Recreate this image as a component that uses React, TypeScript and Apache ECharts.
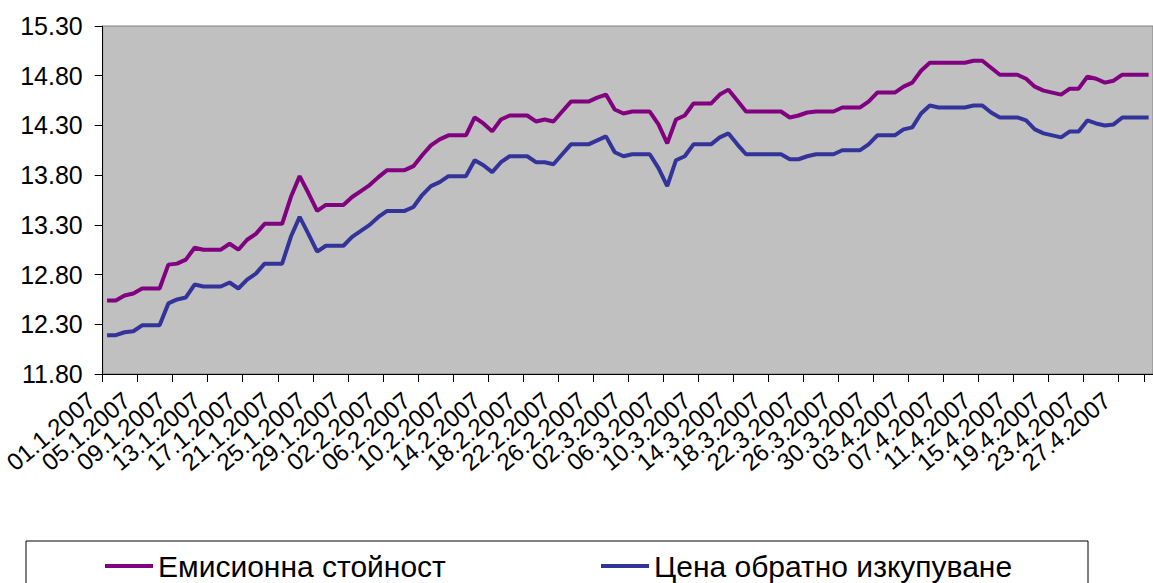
import React, { useEffect, useRef } from "react";
import * as echarts from "echarts";

// Daily categories 01.1.2007 – 30.4.2007
const monthDays = [31, 28, 31, 30];
const categories: string[] = [];
monthDays.forEach((n, mi) => {
  for (let d = 1; d <= n; d++) {
    categories.push(String(d).padStart(2, "0") + "." + (mi + 1) + ".2007");
  }
});
const labelEvery = 4;

const seriesNames = ["Емисионна стойност", "Цена обратно изкупуване"];

const emission = [
  12.54, 12.54, 12.59, 12.61, 12.66, 12.66, 12.66, 12.90, 12.91, 12.95,
  13.07, 13.05, 13.05, 13.05, 13.11, 13.05, 13.15, 13.21, 13.31, 13.31,
  13.31, 13.58, 13.79, 13.62, 13.44, 13.50, 13.50, 13.50, 13.58, 13.64,
  13.70, 13.78, 13.85, 13.85, 13.85, 13.89, 14.00, 14.10, 14.16, 14.20,
  14.20, 14.20, 14.38, 14.32, 14.24, 14.36, 14.40, 14.40, 14.40, 14.34,
  14.36, 14.34, 14.44, 14.54, 14.54, 14.54, 14.58, 14.61, 14.46, 14.42,
  14.44, 14.44, 14.44, 14.31, 14.12, 14.36, 14.40, 14.52, 14.52, 14.52,
  14.61, 14.66, 14.55, 14.44, 14.44, 14.44, 14.44, 14.44, 14.38, 14.40,
  14.43, 14.44, 14.44, 14.44, 14.48, 14.48, 14.48, 14.54, 14.63, 14.63,
  14.63, 14.69, 14.73, 14.85, 14.93, 14.93, 14.93, 14.93, 14.93, 14.95,
  14.95, 14.88, 14.81, 14.81, 14.81, 14.77, 14.69, 14.65, 14.63, 14.61,
  14.67, 14.67, 14.79, 14.77, 14.73, 14.75, 14.81, 14.81, 14.81, 14.81,
];

const redemption = [
  12.19, 12.19, 12.22, 12.23, 12.29, 12.29, 12.29, 12.51, 12.55, 12.57,
  12.70, 12.68, 12.68, 12.68, 12.72, 12.66, 12.75, 12.81, 12.91, 12.91,
  12.91, 13.18, 13.38, 13.21, 13.03, 13.09, 13.09, 13.09, 13.18, 13.24,
  13.30, 13.38, 13.44, 13.44, 13.44, 13.48, 13.60, 13.69, 13.73, 13.79,
  13.79, 13.79, 13.95, 13.90, 13.83, 13.93, 13.99, 13.99, 13.99, 13.93,
  13.93, 13.91, 14.01, 14.11, 14.11, 14.11, 14.15, 14.19, 14.03, 13.99,
  14.01, 14.01, 14.01, 13.87, 13.69, 13.95, 13.99, 14.11, 14.11, 14.11,
  14.18, 14.22, 14.11, 14.01, 14.01, 14.01, 14.01, 14.01, 13.96, 13.96,
  13.99, 14.01, 14.01, 14.01, 14.05, 14.05, 14.05, 14.11, 14.20, 14.20,
  14.20, 14.26, 14.28, 14.42, 14.50, 14.48, 14.48, 14.48, 14.48, 14.50,
  14.50, 14.43, 14.38, 14.38, 14.38, 14.35, 14.26, 14.22, 14.20, 14.18,
  14.24, 14.24, 14.35, 14.32, 14.30, 14.31, 14.38, 14.38, 14.38, 14.38,
];

const yMin = 11.8;
const yMax = 15.3;
const yStep = 0.5;

const FONT = "'Liberation Sans', Arial, sans-serif";
const PURPLE = "#800080";
const BLUE = "#333399";

export default function App() {
  const ref = useRef<HTMLDivElement>(null);

  useEffect(() => {
    if (!ref.current) return;
    const chart = echarts.init(ref.current, undefined, { renderer: "svg" });
    const legendBase = {
      top: 551,
      padding: 0,
      icon: "rect",
      itemWidth: 48,
      itemHeight: 4,
      textStyle: { fontSize: 30, color: "#000", fontFamily: FONT, lineHeight: 30 },
    };
    chart.setOption({
      animation: false,
      backgroundColor: "#ffffff",
      textStyle: { fontFamily: FONT },
      grid: {
        left: 102,
        top: 26,
        right: -10,
        bottom: 209,
        show: true,
        backgroundColor: "#C0C0C0",
        borderColor: "#808080",
        borderWidth: 1,
      },
      legend: [
        { ...legendBase, data: [seriesNames[0]], left: 105 },
        { ...legendBase, data: [seriesNames[1]], left: 601 },
      ],
      graphic: [
        {
          type: "rect",
          shape: { x: 26, y: 541, width: 1062, height: 80 },
          style: { fill: "none", stroke: "#000", lineWidth: 1 },
          silent: true,
          z: -1,
        },
      ],
      xAxis: {
        type: "category",
        data: categories,
        boundaryGap: true,
        axisLine: { lineStyle: { color: "#000", width: 1 } },
        axisTick: { show: true, interval: labelEvery - 1, length: 8, lineStyle: { color: "#000" } },
        axisLabel: {
          interval: 0,
          rotate: 40,
          margin: 10,
          hideOverlap: false,
          fontSize: 24,
          color: "#000",
          fontFamily: FONT,
          formatter: (v: string, i: number) => (i % labelEvery === 0 ? "{t|" + v + "}" : ""),
          rich: {
            t: {
              fontSize: 24,
              color: "#000",
              fontFamily: FONT,
              padding: [0, 20, 0, 0],
            },
          },
        },
        splitLine: { show: false },
      },
      yAxis: {
        type: "value",
        min: yMin,
        max: yMax,
        interval: yStep,
        axisLine: { show: true, lineStyle: { color: "#000", width: 1 } },
        axisTick: { show: true, length: 8, lineStyle: { color: "#000" } },
        axisLabel: {
          margin: 20,
          fontSize: 25,
          color: "#000",
          fontFamily: FONT,
          formatter: (v: number) => v.toFixed(2),
        },
        splitLine: { show: false },
      },
      series: [
        {
          name: seriesNames[0],
          type: "line",
          data: emission,
          symbol: "none",
          lineStyle: { color: PURPLE, width: 4 },
          itemStyle: { color: PURPLE },
        },
        {
          name: seriesNames[1],
          type: "line",
          data: redemption,
          symbol: "none",
          lineStyle: { color: BLUE, width: 4 },
          itemStyle: { color: BLUE },
        },
      ],
    });
    return () => chart.dispose();
  }, []);

  return (
    <div
      style={{
        position: "fixed",
        left: 0,
        top: 0,
        width: 1153,
        height: 583,
        overflow: "hidden",
        background: "#fff",
      }}
    >
      <div ref={ref} style={{ width: 1153, height: 583 }} />
    </div>
  );
}
